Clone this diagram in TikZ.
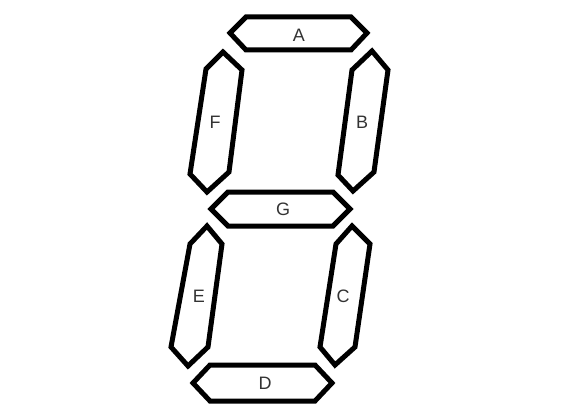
\documentclass[tikz,border=0pt]{standalone}
\usepackage{fontspec}
\setmainfont{Liberation Sans}
\usetikzlibrary{
    positioning % for placing nodes relative to other nodes
}

\begin{document}
\begin{tikzpicture}[
    x=1pt,y=-1pt,
    segment/.style  = {line width=5pt,draw=black,fill=white},
    seglabel/.style = {font=\fontsize{18}{18}\selectfont,text=black!80,inner sep=0pt}
]
\useasboundingbox (0,0) rectangle (579,412);

% horizontal segments
    \draw [segment] (230,33) -- (246,17) -- (351,17) -- (367,33) -- (351,50) -- (246,50) -- cycle;
    \draw [segment] (211,209) -- (228,192) -- (333,192) -- (350,209) -- (333,226) -- (228,226) -- cycle;
    \draw [segment] (193,383) -- (210,365) -- (315,365) -- (332,383) -- (315,401) -- (210,401) -- cycle;

% vertical segments
    \draw [segment] (223,52) -- (242,70) -- (229,172) -- (207,192) -- (190,174) -- (206,69) -- cycle;
    \draw [segment] (372,51) -- (388,70) -- (374,172) -- (353,191) -- (338,175) -- (352,70) -- cycle;
    \draw [segment] (207,226) -- (222,244) -- (208,347) -- (188,366) -- (171,347) -- (190,244) -- cycle;
    \draw [segment] (352,226) -- (370,244) -- (355,347) -- (335,365) -- (320,347) -- (336,244) -- cycle;

% labels
    \node [seglabel] (a) at (299,35)  {A};
    \node [seglabel] (b) at (362,122) {B};
    \node [seglabel] (c) at (343,296) {C};
    \node [seglabel] (d) at (265,383) {D};
    \node [seglabel] (e) at (199,296) {E};
    \node [seglabel] (f) at (215,122) {F};
    \node [seglabel] (g) at (283,209) {G};

\end{tikzpicture}
\end{document}
